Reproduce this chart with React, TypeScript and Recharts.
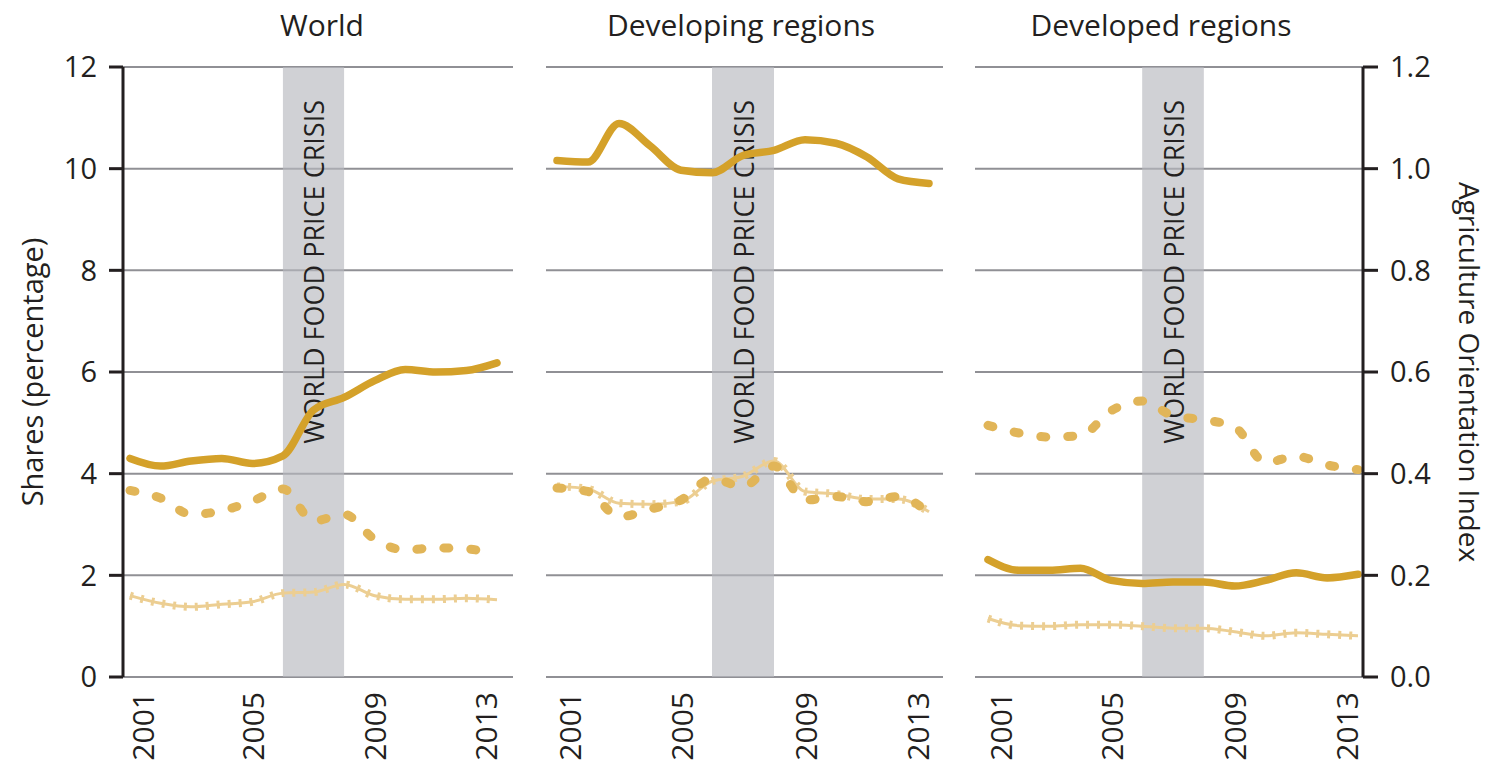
import { LineChart, Line, XAxis, YAxis, CartesianGrid, ReferenceArea } from 'recharts';

const years = [2001, 2002, 2003, 2004, 2005, 2006, 2007, 2008, 2009, 2010, 2011, 2012, 2013];
const tickYears = [2001, 2005, 2009, 2013];
const shareTicks = [0, 2, 4, 6, 8, 10, 12];
const indexTicks = [0, 0.2, 0.4, 0.6, 0.8, 1.0, 1.2];
const crisisStart = 2006;
const crisisEnd = 2008;

// agriculture share of GDP (solid), orientation index (dashed, right axis), share of gov. expenditure (light)
const worldGdp = [4.3, 4.15, 4.25, 4.3, 4.2, 4.35, 5.25, 5.5, 5.83, 6.05, 6.0, 6.03, 6.18];
const worldAoi = [0.367, 0.352, 0.32, 0.327, 0.346, 0.37, 0.307, 0.32, 0.271, 0.25, 0.254, 0.252, 0.242];
const worldExp = [1.6, 1.45, 1.38, 1.43, 1.48, 1.65, 1.67, 1.82, 1.6, 1.53, 1.53, 1.55, 1.52];

const developingGdp = [10.16, 10.13, 10.89, 10.45, 9.97, 9.92, 10.26, 10.36, 10.57, 10.5, 10.23, 9.8, 9.71];
const developingAoi = [0.372, 0.365, 0.315, 0.33, 0.348, 0.39, 0.375, 0.415, 0.348, 0.355, 0.345, 0.355, 0.322];
const developingExp = [3.75, 3.7, 3.42, 3.4, 3.45, 3.85, 3.95, 4.25, 3.65, 3.6, 3.5, 3.5, 3.25];

const developedGdp = [2.31, 2.1, 2.1, 2.14, 1.9, 1.84, 1.87, 1.87, 1.79, 1.9, 2.05, 1.95, 2.02];
const developedAoi = [0.495, 0.48, 0.472, 0.475, 0.524, 0.543, 0.514, 0.506, 0.492, 0.422, 0.434, 0.417, 0.408];
const developedExp = [1.15, 1.01, 1.0, 1.03, 1.03, 1.0, 0.96, 0.96, 0.89, 0.81, 0.87, 0.84, 0.81];

const FONT = "'Open Sans', 'DejaVu Sans', sans-serif";
const INK = '#231f20';
const GRID = '#909095';
const GOLD = '#d4a12a';
const GOLD_MID = '#e1b558';
const GOLD_LIGHT = '#ecce92';

function buildRows(gdp: number[], aoi: number[], exp: number[]) {
  return years.map((year, i) => ({ year, gdp: gdp[i], aoi: aoi[i], exp: exp[i] }));
}

const panels = [
  {
    title: 'World', rows: buildRows(worldGdp, worldAoi, worldExp),
    left: 0, width: 520, margin: { top: 67, right: 7, bottom: 0, left: 0 },
    padding: { left: 7, right: 16 }, titleX: 322, showLeft: true, showRight: false,
  },
  {
    title: 'Developing regions', rows: buildRows(developingGdp, developingAoi, developingExp),
    left: 530, width: 420, margin: { top: 67, right: 7, bottom: 0, left: 16 },
    padding: { left: 11, right: 14 }, titleX: 741, showLeft: false, showRight: false,
  },
  {
    title: 'Developed regions', rows: buildRows(developedGdp, developedAoi, developedExp),
    left: 960, width: 528, margin: { top: 67, right: 0, bottom: 0, left: 15 },
    padding: { left: 13, right: 5 }, titleX: 1161, showLeft: false, showRight: true,
  },
];

function YearTick(props: any) {
  const { x, y, payload, index } = props;
  const shift = index === 0 ? 12 : index === tickYears.length - 1 ? -12 : 0;
  const tx = x + shift;
  return (
    <text x={tx} y={y} transform={`rotate(-90 ${tx} ${y})`} textAnchor="end" dominantBaseline="central"
      fontSize={30} fill={INK} fontFamily={FONT}>
      {payload.value}
    </text>
  );
}

function CrisisLabel(props: any) {
  const { x, y, width } = props.viewBox;
  const cx = x + width / 2;
  const ty = y + 33;
  return (
    <text x={cx} y={ty} transform={`rotate(-90 ${cx} ${ty})`} textAnchor="end" dominantBaseline="central"
      fontSize={27} fill={INK} fontFamily={FONT}>
      WORLD FOOD PRICE CRISIS
    </text>
  );
}

function SharesTitle(props: any) {
  const { x, y, height } = props.viewBox;
  const tx = x + 31;
  const ty = y + height / 2;
  return (
    <text x={tx} y={ty} transform={`rotate(-90 ${tx} ${ty})`} textAnchor="middle" dominantBaseline="central"
      fontSize={29} fill={INK} fontFamily={FONT}>
      Shares (percentage)
    </text>
  );
}

function IndexTitle(props: any) {
  const { x, y, height } = props.viewBox;
  const tx = x + 107;
  const ty = y + height / 2;
  return (
    <text x={tx} y={ty} transform={`rotate(90 ${tx} ${ty})`} textAnchor="middle" dominantBaseline="central"
      fontSize={28} fill={INK} fontFamily={FONT}>
      Agriculture Orientation Index
    </text>
  );
}

export default function App() {
  return (
    <div style={{ position: 'absolute', left: 0, top: 0, width: 1488, height: 771, background: '#fff', fontFamily: FONT }}>
      {panels.map((p) => (
        <div key={p.title}>
          <div style={{
            position: 'absolute', top: 10, left: p.titleX - 200, width: 400, height: 30,
            lineHeight: '30px', textAlign: 'center', fontSize: 30, color: INK,
          }}>
            {p.title}
          </div>
          <div style={{ position: 'absolute', left: p.left, top: 0 }}>
            <LineChart width={p.width} height={771} data={p.rows} margin={p.margin}>
              <CartesianGrid vertical={false} stroke={GRID} strokeWidth={2} yAxisId="left" />
              <ReferenceArea x1={crisisStart} x2={crisisEnd} yAxisId="left" fill="#b7b9bf" fillOpacity={0.65}
                stroke="none" label={(lp: any) => <CrisisLabel {...lp} />} />
              <XAxis dataKey="year" type="number" domain={[2001, 2013]} ticks={tickYears} padding={p.padding}
                axisLine={false} tickLine={false} tickSize={0} tickMargin={15} height={94}
                tick={<YearTick />} interval={0} />
              <YAxis yAxisId="left" domain={[0, 12]} ticks={shareTicks} hide={!p.showLeft} width={123}
                axisLine={{ stroke: INK, strokeWidth: 3 }} tickLine={{ stroke: INK, strokeWidth: 3 }}
                tickSize={14} tickMargin={12} interval={0}
                tick={{ fontSize: 29, fill: INK, fontFamily: FONT }}
                label={(lp: any) => <SharesTitle {...lp} />} />
              <YAxis yAxisId="right" orientation="right" domain={[0, 1.2]} ticks={indexTicks} hide={!p.showRight}
                width={125} axisLine={{ stroke: INK, strokeWidth: 3 }} tickLine={{ stroke: INK, strokeWidth: 3 }}
                tickSize={15} tickMargin={12} interval={0}
                tickFormatter={(v: number) => v.toFixed(1)}
                tick={{ fontSize: 29, fill: INK, fontFamily: FONT }}
                label={(lp: any) => <IndexTitle {...lp} />} />
              <Line yAxisId="left" type="monotone" dataKey="exp" stroke={GOLD_LIGHT} strokeWidth={3}
                dot={false} activeDot={false} isAnimationActive={false} />
              <Line yAxisId="left" type="monotone" dataKey="exp" stroke={GOLD_LIGHT} strokeWidth={8}
                strokeDasharray="3 8" dot={false} activeDot={false} isAnimationActive={false} />
              <Line yAxisId="right" type="monotone" dataKey="aoi" stroke={GOLD_MID} strokeWidth={9}
                strokeDasharray="5 22" strokeLinecap="round" dot={false} activeDot={false} isAnimationActive={false} />
              <Line yAxisId="left" type="monotone" dataKey="gdp" stroke={GOLD} strokeWidth={7.5}
                strokeLinecap="round" dot={false} activeDot={false} isAnimationActive={false} />
            </LineChart>
          </div>
        </div>
      ))}
    </div>
  );
}
